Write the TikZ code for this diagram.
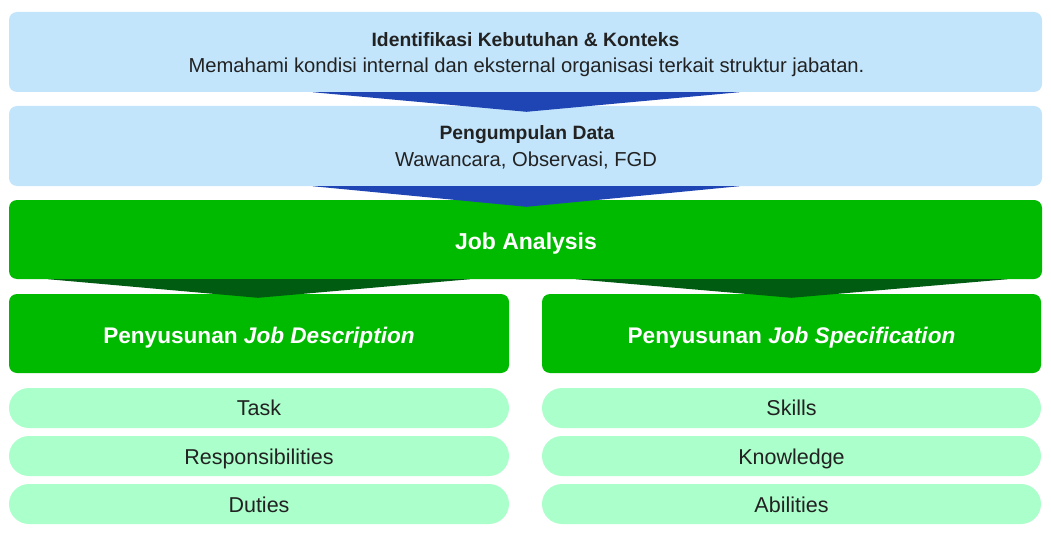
\documentclass[tikz,border=0pt]{standalone}
\usepackage{fontspec}
\setmainfont{Liberation Sans}
\definecolor{lblue}{HTML}{C2E5FC}
\definecolor{arrblue}{HTML}{1F45B5}
\definecolor{mgreen}{HTML}{00BA00}
\definecolor{dgreen}{HTML}{005C10}
\definecolor{pillc}{HTML}{ABFFCB}
\definecolor{txt}{HTML}{222222}
\begin{document}
\begin{tikzpicture}[x=1pt,y=-1pt,
  blk/.style={fill=lblue, rounded corners=8pt, minimum width=1033pt, minimum height=80pt, inner sep=0pt},
  gbox/.style={fill=mgreen, rounded corners=8pt, minimum height=79pt, inner sep=0pt},
  pill/.style={fill=pillc, rounded corners=20pt, minimum height=40pt, inner sep=0pt},
  ttl/.style={anchor=base, inner sep=0pt, text=txt, font=\bfseries\fontsize{19.3}{22}\selectfont},
  sub/.style={anchor=base, inner sep=0pt, text=txt, font=\fontsize{20.2}{22}\selectfont},
  gtxt/.style={anchor=base, inner sep=0pt, text=white, font=\bfseries\fontsize{23}{26}\selectfont},
  ptxt/.style={anchor=base, inner sep=0pt, text=txt, font=\fontsize{21.5}{24}\selectfont},
  ]
\useasboundingbox (0,0) rectangle (1051,540);
\node[blk] (b1) at (525.5,52) {};
\node[blk] (b2) at (525.5,146) {};
\node[gbox, minimum width=1033pt] (b3) at (525.5,239.5) {};
\node[gbox, minimum width=500pt] (jd) at (259,333.5) {};
\node[gbox, minimum width=499pt] (js) at (791.5,333.5) {};
\node[pill, minimum width=500pt] (p1) at (259,408) {};
\node[pill, minimum width=500pt] (p2) at (259,456) {};
\node[pill, minimum width=500pt] (p3) at (259,504) {};
\node[pill, minimum width=499pt] (q1) at (791.5,408) {};
\node[pill, minimum width=499pt] (q2) at (791.5,456) {};
\node[pill, minimum width=499pt] (q3) at (791.5,504) {};
% texts
\node[ttl] (t1) at (525.5,47) {Identifikasi Kebutuhan \& Konteks};
\node[sub] (s1) at (526.5,73) {Memahami kondisi internal dan eksternal organisasi terkait struktur jabatan.};
\node[ttl] (t2) at (527,140) {Pengumpulan Data};
\node[sub] (s2) at (526,166.5) {Wawancara, Observasi, FGD};
\node[gtxt] (t3) at (526,249.5) {Job Analysis};
\node[gtxt] (t4) at (259,343.5) {\fontsize{22.6}{26}\selectfont Penyusunan \textit{Job Description}};
\node[gtxt] (t5) at (791.5,343.5) {\fontsize{22.6}{26}\selectfont Penyusunan \textit{Job Specification}};
\node[ptxt] (u1) at (259,415.5) {Task};
\node[ptxt] (u2) at (259,464) {Responsibilities};
\node[ptxt] (u3) at (259,512.5) {Duties};
\node[ptxt] (v1) at (791.5,415.5) {Skills};
\node[ptxt] (v2) at (791.5,464) {Knowledge};
\node[ptxt] (v3) at (791.5,512.5) {Abilities};
% connectors
\fill[arrblue] ([xshift=-213pt]b1.south) -- ([xshift=214pt]b1.south) -- ([yshift=-6pt,xshift=1pt]b2.north) -- cycle;
\fill[arrblue] ([xshift=-213pt]b2.south) -- ([xshift=214pt]b2.south) -- ([yshift=-7pt,xshift=1pt]b3.north) -- cycle;
\fill[dgreen] ([xshift=-211pt]b3.south -| jd.north) -- ([xshift=211pt]b3.south -| jd.north) -- ([yshift=-4pt,xshift=-1pt]jd.north) -- cycle;
\fill[dgreen] ([xshift=-216pt]b3.south -| js.north) -- ([xshift=216pt]b3.south -| js.north) -- ([yshift=-4pt]js.north) -- cycle;
\end{tikzpicture}
\end{document}
